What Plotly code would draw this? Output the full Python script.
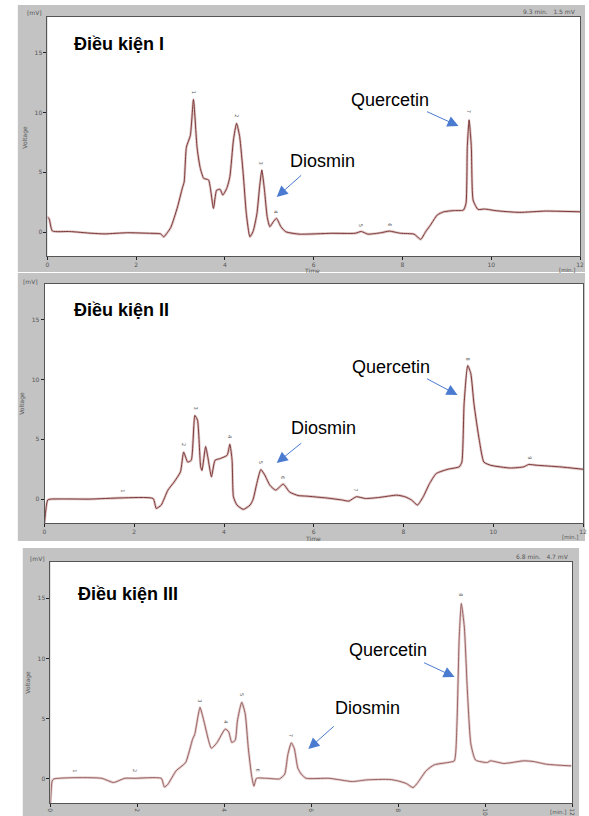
import plotly.graph_objects as go

# ---------------- data ----------------
t1 = [0, 0.04, 0.11, 0.5, 1.0, 1.3, 1.8, 2.3, 2.55, 2.62, 2.7, 2.78, 2.93, 3.04, 3.08, 3.13, 3.22, 3.29,
      3.37, 3.44, 3.52, 3.63, 3.74, 3.81, 3.89, 3.95, 4.04, 4.11, 4.19, 4.26, 4.33, 4.41, 4.48, 4.56, 4.63,
      4.72, 4.78, 4.83, 4.89, 4.95, 5.01, 5.09, 5.16, 5.26, 5.37, 5.67, 6.41, 6.93, 7.07, 7.22, 7.52, 7.70,
      7.96, 8.26, 8.41, 8.52, 8.63, 8.78, 8.93, 9.15, 9.37, 9.43, 9.46, 9.50, 9.55, 9.59, 9.70, 9.85, 10.11,
      10.63, 11.22, 12.0]
v1 = [1.26, 1.1, 0.1, 0.05, -0.1, -0.15, -0.05, -0.1, -0.15, -0.4, -0.05, 0.4, 2.1, 3.7, 4.2, 7.1, 8.1, 11.1,
      7.1, 5.4, 4.5, 4.36, 1.98, 3.5, 3.58, 3.1, 3.66, 4.64, 7.7, 9.1, 8.0, 4.9, 1.56, -0.39, 0.03,
      1.56, 3.8, 5.2, 3.5, 1.29, 0.45, 0.87, 1.15, 0.45, 0.03, -0.17, -0.1, -0.1, 0.05, -0.17, -0.05, 0.08,
      -0.1, -0.17, -0.61, 0.03, 0.59, 1.42, 1.70, 1.8, 1.84, 2.4, 7.15, 9.39, 7.15, 2.68, 1.9, 1.93, 1.79,
      1.65, 1.76, 1.7]

t2 = [0, 0.07, 0.14, 1.0, 1.72, 2.42, 2.49, 2.6, 2.75, 2.89, 3.03, 3.1, 3.19, 3.27, 3.35, 3.41, 3.48, 3.51,
      3.59, 3.64, 3.72, 3.8, 3.92, 4.07, 4.13, 4.18, 4.21, 4.29, 4.43, 4.58, 4.65, 4.73, 4.82, 4.91, 5.02,
      5.15, 5.32, 5.46, 5.65, 5.83, 6.27, 6.64, 6.78, 6.95, 7.15, 7.44, 7.85, 8.03, 8.18, 8.31, 8.44, 8.58,
      8.73, 8.99, 9.24, 9.3, 9.35, 9.43, 9.5, 9.57, 9.69, 9.79, 9.94, 10.38, 10.68, 10.79, 10.97, 11.48, 12.0]
v2 = [-2.0, -0.08, 0.0, 0.0, 0.1, 0.05, -0.78, -0.5, 0.75, 1.44, 2.28, 3.94, 3.1, 3.25, 7.0, 6.6, 2.7, 2.4,
      4.4, 3.5, 1.86, 3.25, 3.4, 3.67, 4.58, 3.25, 0.2, -0.5, -0.86, -0.5, 0.0, 1.3, 2.47, 2.0, 1.17,
      0.75, 1.25, 0.6, 0.3, 0.25, 0.1, -0.08, -0.17, 0.2, 0.05, 0.13, 0.33, 0.2, -0.08, -0.5, 0.2, 1.3,
      2.14, 2.5, 2.7, 3.1, 7.97, 11.17, 10.5, 7.97, 4.9, 3.1, 2.83, 2.6, 2.7, 2.9, 2.83, 2.7, 2.5]

t3 = [0, 0.04, 0.08, 0.5, 1.18, 1.45, 1.71, 1.94, 2.55, 2.62, 2.7, 2.89, 3.11, 3.27, 3.32, 3.44, 3.53, 3.7,
      3.83, 4.02, 4.1, 4.17, 4.25, 4.3, 4.4, 4.48, 4.55, 4.63, 4.68, 4.74, 4.97, 5.27, 5.39, 5.46, 5.54,
      5.61, 5.69, 5.77, 5.88, 6.41, 6.94, 7.28, 7.81, 8.0, 8.19, 8.34, 8.45, 8.64, 8.83, 9.14, 9.29, 9.35,
      9.4, 9.45, 9.52, 9.59, 9.67, 9.78, 10.05, 10.12, 10.43, 10.88, 11.1, 11.41, 11.98]
v3 = [-2.1, -0.17, 0.0, 0.1, 0.05, -0.3, 0.05, 0.05, 0.05, -0.67, -0.45, 0.67, 1.36, 3.3, 3.7, 5.94, 4.8, 2.55,
      3.0, 4.14, 3.9, 3.03, 3.2, 4.8, 6.36, 5.4, 2.6, 0.2, -0.6, 0.05, 0.05, 0.0, 0.4, 2.0, 3.0,
      2.5, 0.9, 0.39, 0.05, 0.05, -0.22, -0.08, -0.05, -0.17, -0.39, -0.72, -0.3, 0.67, 1.17, 1.36, 1.5, 4.56,
      11.5, 14.56, 12.6, 7.3, 2.9, 1.56, 1.36, 1.5, 1.28, 1.5, 1.45, 1.22, 1.08]

# peak number labels (time, voltage)
pk1_t = [3.29, 4.27, 4.82, 5.16, 7.07, 7.71, 9.49]
pk1_v = [11.7, 9.7, 5.8, 1.7, 0.6, 0.6, 10.1]
pk2_t = [1.76, 3.11, 3.37, 4.13, 4.84, 5.33, 6.94, 9.43, 10.82]
pk2_v = [0.7, 4.6, 7.6, 5.2, 3.06, 1.8, 0.75, 11.7, 3.5]
pk3_t = [0.58, 1.94, 3.45, 4.05, 4.42, 4.78, 5.54, 9.44]
pk3_v = [0.67, 0.67, 6.5, 4.75, 7.0, 0.75, 3.64, 15.25]

titles = ["Điều kiện I", "Điều kiện II", "Điều kiện III"]
x_ticks = [0, 2, 4, 6, 8, 10, 12]
y_ticks = [0, 5, 10, 15]
info_texts = ["9.3 min.   1.5 mV", None, "6.8 min.   4.7 mV"]

# ---------------- layout helpers ----------------
W, H = 589, 816
def fx(p):
    return p / W
def fy(p):
    return 1 - p / H

panels = [
    dict(frame=(15, 5, 589, 272), plot=(45, 17, 584, 256), t=t1, v=v1, pt=pk1_t, pv=pk1_v,
         title=(70, 44), quer=(392, 100), qarr=((461, 126), (428, 111)),
         dios=(323, 161), darr=((277, 197), (303, 174)),
         mv=(32, 13), volt=(22, 137), time=(313, 271), mins=(571, 270), info=(553, 12),
         line="#7e3a3a", halo="rgba(190,140,140,0.5)"),
    dict(frame=(15, 273, 589, 541), plot=(42, 284, 587, 523), t=t2, v=v2, pt=pk2_t, pv=pk2_v,
         title=(70, 310), quer=(393, 367), qarr=((460, 395), (428, 378)),
         dios=(324, 428), darr=((277, 463), (303, 442)),
         mv=(28, 281), volt=(19, 403), time=(314, 538), mins=(574, 537), info=None,
         line="#7e3a3a", halo="rgba(190,140,140,0.5)"),
    dict(frame=(20, 548, 583, 816), plot=(48, 562, 576, 803), t=t3, v=v3, pt=pk3_t, pv=pk3_v,
         title=(74, 594), quer=(390, 650), qarr=((457, 677), (425, 662)),
         dios=(369, 708), darr=((309, 749), (336, 725)),
         mv=(35, 558), volt=(25, 682), time=None, mins=(562, 812), info=(546, 556),
         line="#9a6464", halo="rgba(205,165,165,0.55)"),
]

fig = go.Figure()
shapes = []
annotations = []
layout_axes = {}


def label(pos, text, font, anchor="center", angle=0):
    return dict(x=fx(pos[0]), y=fy(pos[1]), xref="paper", yref="paper", text=text, showarrow=False,
                xanchor=anchor, yanchor="middle", textangle=angle, font=font)


for i, p in enumerate(panels):
    n = i + 1
    xa = "x" if n == 1 else f"x{n}"
    ya = "y" if n == 1 else f"y{n}"
    fl, ft, fr, fb = p["frame"]
    pl, pt_, pr, pb = p["plot"]
    shapes.append(dict(type="rect", xref="paper", yref="paper", x0=fx(fl), x1=fx(fr), y0=fy(fb), y1=fy(ft),
                       fillcolor="#c3c3c3", line=dict(width=0), layer="below"))
    shapes.append(dict(type="rect", xref="paper", yref="paper", x0=fx(pl), x1=fx(pr), y0=fy(pb), y1=fy(pt_),
                       fillcolor="white", line=dict(width=0), layer="below"))

    fig.add_trace(go.Scatter(x=p["t"], y=p["v"], mode="lines", xaxis=xa, yaxis=ya,
                             line=dict(color=p["halo"], width=2.6, shape="spline", smoothing=0.5),
                             hoverinfo="skip", showlegend=False))
    fig.add_trace(go.Scatter(x=p["t"], y=p["v"], mode="lines", xaxis=xa, yaxis=ya,
                             line=dict(color=p["line"], width=1.0, shape="spline", smoothing=0.5),
                             showlegend=False))

    axkey = "xaxis" if n == 1 else f"xaxis{n}"
    aykey = "yaxis" if n == 1 else f"yaxis{n}"
    layout_axes[axkey] = dict(domain=[fx(pl), fx(pr)], range=[0, 12], anchor=ya,
                              tickvals=x_ticks, ticktext=[str(k) for k in x_ticks],
                              ticks="outside", ticklen=3, tickwidth=1, tickcolor="#222",
                              tickfont=dict(size=6, color="#555", family="DejaVu Sans"),
                              tickangle=90 if n == 3 else 0,
                              showline=True, mirror=True, linecolor="#555", linewidth=1,
                              showgrid=False, zeroline=False, fixedrange=True)
    layout_axes[aykey] = dict(domain=[fy(pb), fy(pt_)], range=[-2, 18], anchor=xa,
                              tickvals=y_ticks, ticktext=[str(k) for k in y_ticks],
                              ticks="outside", ticklen=3, tickwidth=1, tickcolor="#222",
                              tickfont=dict(size=6, color="#555", family="DejaVu Sans"),
                              showline=True, mirror=True, linecolor="#555", linewidth=1,
                              showgrid=False, zeroline=False, fixedrange=True)

    # peak number labels
    for k, (tt, vv) in enumerate(zip(p["pt"], p["pv"])):
        annotations.append(dict(x=tt, y=vv, xref=xa, yref=ya, text=str(k + 1), showarrow=False,
                                xanchor="center", yanchor="middle",
                                textangle=90, font=dict(size=5, color="#555", family="DejaVu Sans")))

    big = dict(size=18, color="black", family="Liberation Sans")
    annotations.append(label(p["title"], "<b>" + titles[i] + "</b>", big, anchor="left"))
    annotations.append(label(p["quer"], "Quercetin", big))
    annotations.append(label(p["dios"], "Diosmin", big))
    for (head, tail) in (p["qarr"], p["darr"]):
        annotations.append(dict(x=fx(head[0]), y=fy(head[1]), xref="paper", yref="paper",
                                ax=tail[0] - head[0], ay=tail[1] - head[1], axref="pixel", ayref="pixel",
                                text="", showarrow=True, arrowhead=2, arrowsize=2.2, arrowwidth=1,
                                arrowcolor="#4a7bd0"))
    small = dict(size=6, color="#555", family="DejaVu Sans")
    annotations.append(label(p["mv"], "[mV]", small))
    annotations.append(label(p["volt"], "Voltage", small, angle=-90))
    if p["time"]:
        annotations.append(label(p["time"], "Time", small))
    annotations.append(label(p["mins"], "[min.]", dict(size=5.5, color="#555", family="DejaVu Sans")))
    if p["info"] and info_texts[i]:
        annotations.append(label(p["info"], info_texts[i], small))

fig.update_layout(width=W, height=H, margin=dict(l=0, r=0, t=0, b=0),
                  paper_bgcolor="white", plot_bgcolor="rgba(0,0,0,0)",
                  shapes=shapes, annotations=annotations, showlegend=False, **layout_axes)

fig.write_html("out.html", config={"displayModeBar": False},
               post_script="document.body.style.margin='0px';document.body.style.overflow='hidden';")
